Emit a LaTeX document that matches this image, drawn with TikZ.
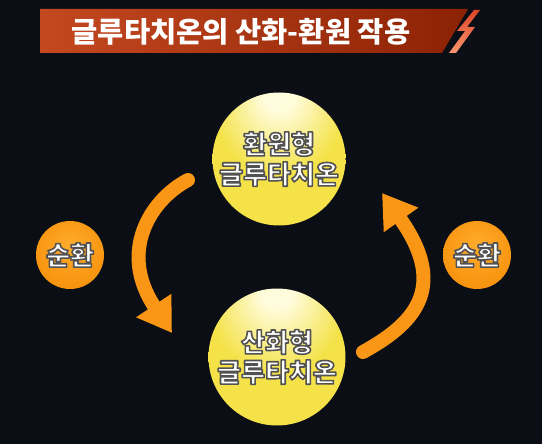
\documentclass[tikz,border=0pt]{standalone}
\usepackage{fontspec}
\setmainfont{Noto Sans CJK KR}
\usetikzlibrary{arrows.meta}
\definecolor{bg}{RGB}{11,14,20}
\definecolor{banL}{RGB}{196,72,32}
\definecolor{banR}{RGB}{140,34,4}
\definecolor{boltA}{RGB}{250,150,110}
\definecolor{boltB}{RGB}{220,70,40}
\definecolor{ylwA}{RGB}{255,252,220}
\definecolor{ylwB}{RGB}{244,226,72}
\definecolor{ylwC}{RGB}{234,192,36}
\definecolor{orA}{RGB}{255,172,45}
\definecolor{orB}{RGB}{247,146,12}
\definecolor{orC}{RGB}{214,108,0}
\definecolor{arrc}{RGB}{250,150,22}
\pgfdeclareradialshading{ylwball}{\pgfpoint{0bp}{26bp}}{color(0bp)=(ylwA); color(6bp)=(ylwA); color(24bp)=(ylwB); color(62bp)=(ylwB); color(76bp)=(ylwC)}
\pgfdeclareradialshading{orball}{\pgfpoint{0bp}{8bp}}{color(0bp)=(orA); color(30bp)=(orB); color(50bp)=(orB); color(58bp)=(orC)}
\newcommand\outl[1]{\special{pdf:literal direct 2 Tr 1.6 w 1 j 0.32 0.32 0.32 RG}#1\special{pdf:literal direct 0 Tr}}
\tikzset{
  yball/.style={circle, shading=ylwball, inner sep=0pt, align=center, text=white, font=\fontsize{26}{30}\selectfont\bfseries},
  oball/.style={circle, shading=orball, inner sep=0pt, minimum size=68pt, text=white, font=\fontsize{26}{30}\selectfont\bfseries},
  arr/.style={draw=arrc, line width=14pt, line cap=round, -{Triangle[length=33pt,width=40pt]}}
}
\begin{document}
\begin{tikzpicture}[x=1pt,y=-1pt]
\fill[bg] (0,0) rectangle (542,444);
\useasboundingbox (0,0) rectangle (542,444);
% banner
\shade[left color=banL, right color=banR] (40,9) -- (468,9) -- (442,53) -- (40,53) -- cycle;
\shade[top color=boltB, bottom color=boltA] (474,10) -- (480,10) -- (467,27) -- (475,27) -- (456,53) -- (449,53) -- (465,31) -- (457,31) -- cycle;
\node[text=white, font=\fontsize{28.5}{30}\selectfont\bfseries] (title) at (241,32) {글루타치온의 산화-환원 작용};
% circles
\node[yball, minimum size=133pt] (red) at (279,159) {\outl{환원형}\\\outl{글루타치온}};
\node[yball, minimum size=137pt] (ox) at (277,357) {\outl{산화형}\\\outl{글루타치온}};
\node[oball] (cl) at (70,255) {\outl{순환}};
\node[oball] (cr) at (477,255) {\outl{순환}};
% arrows
\coordinate (la1) at (188,180);
\coordinate (la2) at (172,333);
\coordinate (ra1) at (363,352);
\coordinate (ra2) at (382,193);
\draw[arr] (la1) .. controls (150,200) and (118,252) .. (la2);
\draw[arr] (ra1) .. controls (412,325) and (450,289) .. (ra2);
\end{tikzpicture}
\end{document}
